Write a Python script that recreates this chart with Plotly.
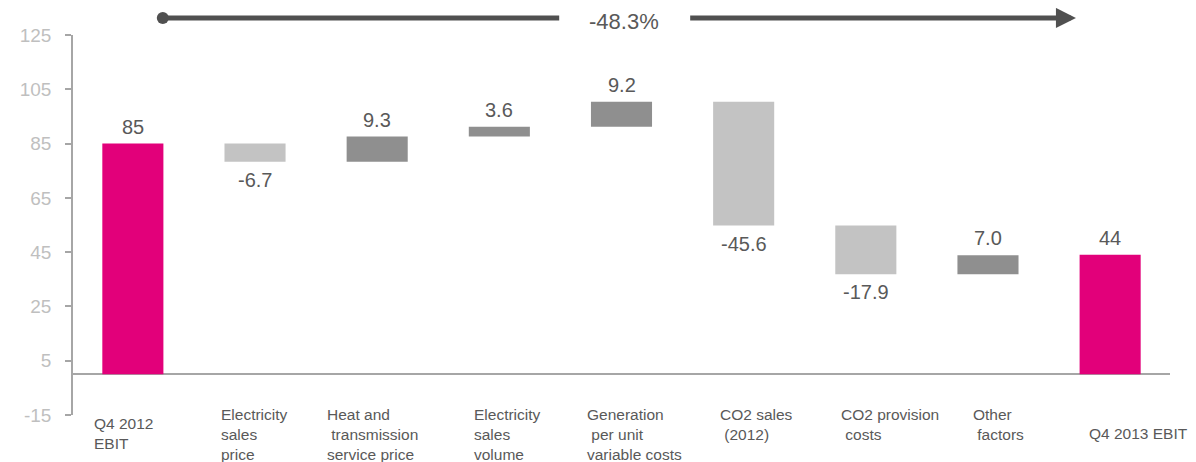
import plotly.graph_objects as go

# EBIT bridge Q4 2012 -> Q4 2013
categories = [
    "Q4 2012<br>EBIT",
    "Electricity<br>sales<br>price",
    "Heat and<br>\u00a0transmission<br>service price",
    "Electricity<br>sales<br>volume",
    "Generation<br>\u00a0per unit<br>variable costs",
    "CO2 sales<br>\u00a0(2012)",
    "CO2 provision<br>\u00a0costs",
    "Other<br>\u00a0factors",
    "Q4 2013 EBIT",
]
measures = ["absolute", "relative", "relative", "relative", "relative",
            "relative", "relative", "relative", "absolute"]
values = [85, -6.7, 9.3, 3.6, 9.2, -45.6, -17.9, 7.0, 44]
value_labels = ["85", "-6.7", "9.3", "3.6", "9.2", "-45.6", "-17.9", "7.0", "44"]
change_label = "-48.3%"
y_ticks = [-15, 5, 25, 45, 65, 85, 105, 125]
y_tick_text = ["-15", "5", "25", "45", "65", "85", "105", "125"]

# where each category label starts (px from bar centre) and its top (paper)
label_dx = [-41, -36, -52, -27, -37, -26, -27, -17, -23]
label_top = [0.005, 0.03, 0.03, 0.03, 0.03, 0.03, 0.03, 0.03, -0.02]

PINK = "#E2007A"
DARK = "#8F8F8F"
LIGHT = "#C3C3C3"
TXT = "#595959"
AXIS = "#A6A6A6"
FONT = "Arial, Liberation Sans, sans-serif"

xs = list(range(len(categories)))

fig = go.Figure()
fig.add_trace(
    go.Waterfall(
        x=xs,
        y=values,
        measure=measures,
        width=0.5,
        increasing=dict(marker=dict(color=DARK)),
        decreasing=dict(marker=dict(color=LIGHT)),
        totals=dict(marker=dict(color=PINK)),
        connector=dict(visible=False),
        hoverinfo="skip",
        showlegend=False,
    )
)

# value labels: above the bar end for rises/totals, below for drops
running = 0.0
for i, (m, v, lab) in enumerate(zip(measures, values, value_labels)):
    if m == "absolute":
        running = v
    else:
        running += v
    below = m == "relative" and v < 0
    fig.add_annotation(
        x=i, y=running, xref="x", yref="y", text=lab, showarrow=False,
        yanchor="top" if below else "bottom",
        yshift=-5 if below else 4,
        font=dict(size=20, color=TXT, family=FONT),
    )

# category labels under the axis
for i, lab in enumerate(categories):
    fig.add_annotation(
        x=i, y=label_top[i], xref="x", yref="paper", text=lab,
        showarrow=False, xanchor="left", yanchor="top", align="left",
        xshift=label_dx[i],
        font=dict(size=15.5, color=TXT, family=FONT),
    )

# overall change arrow across the top
arrow_y = 1.045
arrow_col = "#505050"
fig.add_shape(
    type="line", xref="x", yref="paper",
    x0=0.245, x1=3.49, y0=arrow_y, y1=arrow_y,
    line=dict(color=arrow_col, width=5),
)
fig.add_shape(
    type="circle", xref="x", yref="paper",
    xsizemode="pixel", ysizemode="pixel",
    xanchor=0.245, yanchor=arrow_y,
    x0=-6, x1=6, y0=-6, y1=6,
    fillcolor=arrow_col, line=dict(color=arrow_col, width=0),
)
fig.add_annotation(
    x=7.72, y=arrow_y, xref="x", yref="paper",
    ax=4.55, ay=0, axref="x", ayref="pixel",
    text="", showarrow=True,
    arrowhead=2, arrowsize=0.8, arrowwidth=5, arrowcolor=arrow_col,
)
fig.add_annotation(
    x=4.02, y=arrow_y, xref="x", yref="paper", text=change_label,
    showarrow=False, yanchor="middle", yshift=-4,
    font=dict(size=22, color=TXT, family=FONT),
)

# the page body adds an 8px offset, so the figure is 8px smaller here
fig.update_layout(
    width=1188,
    height=454,
    margin=dict(l=62, r=26, t=27, b=47),
    plot_bgcolor="white",
    paper_bgcolor="white",
    font=dict(family=FONT),
    xaxis=dict(
        range=[-0.49, 8.49], showticklabels=False, showgrid=False,
        zeroline=False, showline=False, ticks="",
    ),
    yaxis=dict(
        range=[-15, 125], tickvals=y_ticks, ticktext=y_tick_text,
        showgrid=False,
        showline=True, linecolor=AXIS, linewidth=1.5,
        ticks="outside", ticklen=6, tickcolor=AXIS, tickwidth=1.5,
        zeroline=True, zerolinecolor=AXIS, zerolinewidth=1.5,
        tickfont=dict(size=19, color="#BFBFBF", family=FONT),
        ticklabelstandoff=10,
    ),
)

fig.write_html("out.html")
